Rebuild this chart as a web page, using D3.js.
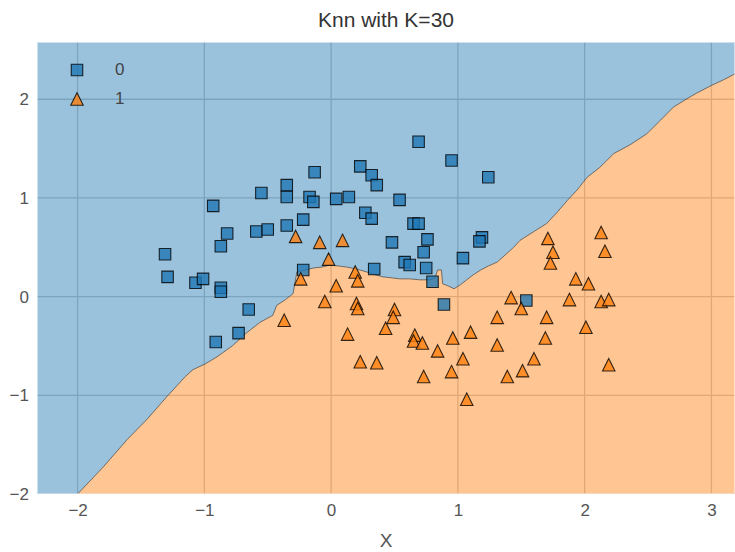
<!DOCTYPE html>
<html>
<head>
<meta charset="utf-8">
<script src="https://cdn.jsdelivr.net/npm/d3@7"></script>
<style>
  body { margin: 0; background: #fff; }
  svg { display: block; }
</style>
</head>
<body>
<svg id="chart" width="735" height="552"></svg>
<script>
// Class 0 samples (squares)
const class0X = [0.69, 0.95, 1.24, -0.13, 0.23, 0.32, 0.36, 0.54, 0.04, 0.14,
  -0.17, -0.14, 0.27, 0.32, 0.65, 0.69, 0.48, 0.76, 0.73, 1.04,
  1.19, 1.17, 0.58, 0.62, 0.75, 0.80, 0.34, 0.89, 1.54, -0.22,
  -0.35, -0.35, -0.55, -0.93, -0.82, -0.87, -0.59, -0.50, -0.35, -0.22,
  -1.31, -1.29, -1.07, -1.01, -0.87, -0.87, -0.65, -0.73, -0.91];
const class0Y = [1.57, 1.38, 1.21, 1.26, 1.32, 1.23, 1.13, 0.98, 0.99, 1.01,
  1.01, 0.96, 0.85, 0.79, 0.74, 0.74, 0.55, 0.58, 0.45, 0.39,
  0.60, 0.56, 0.35, 0.32, 0.29, 0.15, 0.28, -0.08, -0.04, 0.27,
  1.13, 1.01, 1.05, 0.92, 0.64, 0.51, 0.66, 0.68, 0.72, 0.78,
  0.43, 0.20, 0.14, 0.18, 0.09, 0.05, -0.13, -0.37, -0.46];

// Class 1 samples (triangles)
const class1X = [-0.28, -0.09, 0.09, -0.02, -0.24, 0.19, 0.21, 0.04, -0.05, 0.20,
  0.21, -0.37, 0.50, 0.49, 0.43, 0.13, 0.66, 0.65, 0.72, 0.96,
  1.10, 0.84, 1.04, 0.23, 0.36, 0.73, 0.95, 1.07, 1.71, 2.13,
  1.75, 1.73, 2.16, 1.93, 2.03, 1.42, 1.50, 1.88, 2.13, 2.19,
  1.31, 1.70, 2.01, 1.31, 1.69, 1.60, 1.51, 1.39, 2.19];
const class1Y = [0.61, 0.55, 0.57, 0.38, 0.18, 0.25, 0.16, 0.11, -0.05, -0.07,
  -0.12, -0.24, -0.13, -0.21, -0.32, -0.38, -0.39, -0.45, -0.47, -0.42,
  -0.36, -0.55, -0.63, -0.66, -0.67, -0.81, -0.76, -1.04, 0.59, 0.65,
  0.45, 0.34, 0.46, 0.18, 0.13, -0.01, -0.12, -0.03, -0.05, -0.03,
  -0.21, -0.21, -0.31, -0.49, -0.42, -0.63, -0.75, -0.81, -0.69];

// Decision boundary between the two predicted regions (K = 30)
const boundaryX = [-2.00, -1.80, -1.61, -1.45, -1.30, -1.15, -1.09, -0.99, -0.90, -0.78,
  -0.67, -0.56, -0.46, -0.43, -0.36, -0.30, -0.27, -0.20, -0.14, -0.07,
  -0.01, 0.06, 0.12, 0.20, 0.28, 0.35, 0.41, 0.48, 0.54, 0.62,
  0.70, 0.78, 0.82, 0.84, 0.87, 0.88, 0.92, 0.97, 1.02, 1.07,
  1.12, 1.18, 1.24, 1.31, 1.38, 1.44, 1.49, 1.60, 1.70, 1.78,
  1.86, 1.94, 2.02, 2.12, 2.23, 2.36, 2.49, 2.60, 2.70, 2.80,
  2.88, 3.00, 3.10, 3.19];
const boundaryY = [-2.00, -1.73, -1.45, -1.24, -1.02, -0.81, -0.74, -0.68, -0.61, -0.50,
  -0.37, -0.26, -0.19, -0.09, -0.03, 0.03, 0.25, 0.27, 0.29, 0.30,
  0.32, 0.31, 0.30, 0.28, 0.25, 0.22, 0.20, 0.19, 0.18, 0.18,
  0.17, 0.17, 0.19, 0.27, 0.27, 0.13, 0.11, 0.08, 0.12, 0.17,
  0.22, 0.27, 0.31, 0.35, 0.43, 0.50, 0.57, 0.66, 0.74, 0.85,
  0.97, 1.08, 1.21, 1.31, 1.45, 1.54, 1.65, 1.79, 1.92, 2.00,
  2.06, 2.14, 2.20, 2.26];

const xTicks = [-2, -1, 0, 1, 2, 3];
const yTicks = [-2, -1, 0, 1, 2];
const xDomain = [-2.32, 3.186];
const yDomain = [-2.0, 2.58];
const classLabels = ["0", "1"];
const titleText = "Knn with K=30";
const xLabelText = "X";

const colors = ["#1f77b4", "#ff7f0e"];
const font = "'Liberation Sans', Arial, sans-serif";

const svg = d3.select("#chart");
const margin = { left: 37, right: 0, top: 42, bottom: 58 };
const W = 735, H = 552;

const x = d3.scaleLinear().domain(xDomain).range([margin.left, W - margin.right]);
const y = d3.scaleLinear().domain(yDomain).range([H - margin.bottom, margin.top]);

svg.append("clipPath").attr("id", "plotClip")
  .append("rect")
  .attr("x", x(xDomain[0])).attr("y", y(yDomain[1]))
  .attr("width", x(xDomain[1]) - x(xDomain[0]))
  .attr("height", y(yDomain[0]) - y(yDomain[1]));

const plot = svg.append("g").attr("clip-path", "url(#plotClip)");

// Grid sits beneath the translucent decision regions
const grid = plot.append("g").attr("stroke", "#c9c9c9").attr("stroke-width", 1.3);
grid.selectAll("line.gx").data(xTicks).join("line")
  .attr("x1", d => x(d)).attr("x2", d => x(d))
  .attr("y1", y(yDomain[0])).attr("y2", y(yDomain[1]));
grid.selectAll("line.gy").data(yTicks).join("line")
  .attr("y1", d => y(d)).attr("y2", d => y(d))
  .attr("x1", x(xDomain[0])).attr("x2", x(xDomain[1]));

const boundary = boundaryX.map((bx, i) => [bx, boundaryY[i]]);
const blueRegion = boundary.concat([[xDomain[1], yDomain[1]], [xDomain[0], yDomain[1]], [xDomain[0], yDomain[0]]]);
const orangeRegion = boundary.concat([[xDomain[1], yDomain[0]]]);

const area = d3.line().x(d => x(d[0])).y(d => y(d[1]));

plot.append("path").attr("d", area(blueRegion) + "Z")
  .attr("fill", colors[0]).attr("fill-opacity", 0.45);
plot.append("path").attr("d", area(orangeRegion) + "Z")
  .attr("fill", colors[1]).attr("fill-opacity", 0.45);

plot.append("path").attr("d", area(boundary))
  .attr("fill", "none").attr("stroke", "#4a4a4a").attr("stroke-opacity", 0.75)
  .attr("stroke-width", 1);

// thin light frame around the axes
svg.append("rect")
  .attr("x", x(xDomain[0]) + 0.5).attr("y", y(yDomain[1]) + 0.5)
  .attr("width", x(xDomain[1]) - x(xDomain[0]) - 1)
  .attr("height", y(yDomain[0]) - y(yDomain[1]) - 1)
  .attr("fill", "none").attr("stroke", "#fff").attr("stroke-opacity", 0.5);

const SQ = 11.5, TR = 12.5;
const squarePath = `M${-SQ/2},${-SQ/2}H${SQ/2}V${SQ/2}H${-SQ/2}Z`;
const trianglePath = `M0,${-TR/2}L${TR/2},${TR/2}L${-TR/2},${TR/2}Z`;

const pts0 = class0X.map((v, i) => [v, class0Y[i]]);
const pts1 = class1X.map((v, i) => [v, class1Y[i]]);

plot.append("g").selectAll("path").data(pts0).join("path")
  .attr("d", squarePath)
  .attr("transform", d => `translate(${x(d[0])},${y(d[1])})`)
  .attr("fill", colors[0]).attr("fill-opacity", 0.8)
  .attr("stroke", "#000").attr("stroke-opacity", 0.8).attr("stroke-width", 1.1);

plot.append("g").selectAll("path").data(pts1).join("path")
  .attr("d", trianglePath)
  .attr("transform", d => `translate(${x(d[0])},${y(d[1])})`)
  .attr("fill", colors[1]).attr("fill-opacity", 0.8)
  .attr("stroke", "#000").attr("stroke-opacity", 0.8).attr("stroke-width", 1.1);

// Axes
const fmt = d => (d < 0 ? "\u2212" + Math.abs(d) : String(d));
const xAxis = svg.append("g")
  .attr("transform", `translate(0,${y(yDomain[0])})`)
  .call(d3.axisBottom(x).tickValues(xTicks).tickFormat(fmt).tickSize(0).tickPadding(10));
const yAxis = svg.append("g")
  .attr("transform", `translate(${x(xDomain[0])},0)`)
  .call(d3.axisLeft(y).tickValues(yTicks).tickFormat(fmt).tickSize(0).tickPadding(8));
[xAxis, yAxis].forEach(a => {
  a.select(".domain").remove();
  a.selectAll("text").attr("fill", "#555").style("font-family", font).style("font-size", "17px");
});

svg.append("text")
  .attr("x", (x(xDomain[0]) + x(xDomain[1])) / 2).attr("y", 27)
  .attr("text-anchor", "middle")
  .attr("fill", "#333").style("font-family", font).style("font-size", "21px")
  .text(titleText);

svg.append("text")
  .attr("x", (x(xDomain[0]) + x(xDomain[1])) / 2).attr("y", 547)
  .attr("text-anchor", "middle")
  .attr("fill", "#555").style("font-family", font).style("font-size", "19px")
  .text(xLabelText);

// Legend
const legend = svg.append("g");
const legendItems = [
  { path: squarePath, color: colors[0], label: classLabels[0] },
  { path: trianglePath, color: colors[1], label: classLabels[1] }
];
legendItems.forEach((it, i) => {
  const ly = 70 + i * 29;
  legend.append("path").attr("d", it.path)
    .attr("transform", `translate(77,${ly})`)
    .attr("fill", it.color).attr("fill-opacity", 0.8)
    .attr("stroke", "#000").attr("stroke-opacity", 0.8).attr("stroke-width", 1.1);
  legend.append("text")
    .attr("x", 115).attr("y", ly + 5)
    .attr("fill", "#444").style("font-family", font).style("font-size", "17px")
    .text(it.label);
});
</script>
</body>
</html>
